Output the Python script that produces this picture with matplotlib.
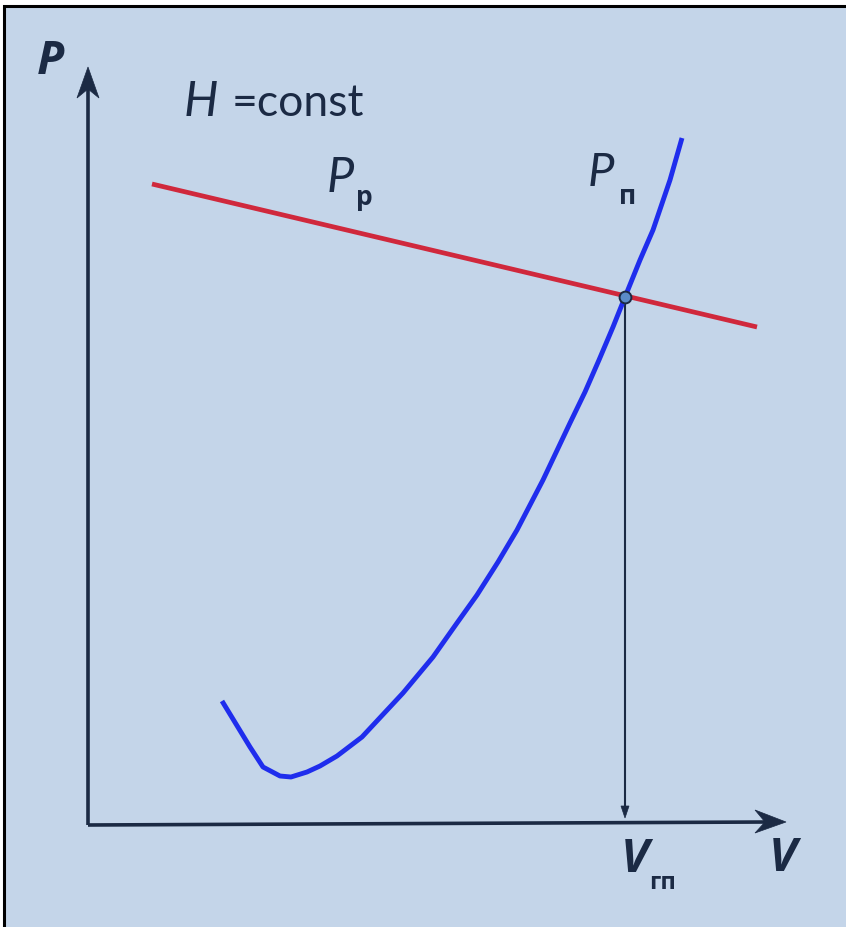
import matplotlib
matplotlib.use("Agg")
import matplotlib.pyplot as plt
from matplotlib.patches import Polygon, Rectangle

# ---- data (V, P in drawing units; origin at axes corner) ----
red_v = [64, 669]
red_p = [641, 498]
blue_v = [134, 162, 175, 192, 203, 219, 232, 249, 274, 315, 345, 369, 389, 410,
          429, 455, 482, 497, 511, 525, 537, 552, 565, 582, 594]
blue_p = [124, 78, 58, 49, 48, 53, 59, 69, 88, 132, 168, 202, 230, 263,
          295, 345, 402, 433, 465, 498, 528, 565, 595, 645, 687]
v_gp = 537
p_gp = 528

BG = "#c4d5e9"
NAVY = "#1b2a44"
RED = "#d0283c"
BLUE = "#1f2ded"

fig = plt.figure(figsize=(8.46, 9.27), dpi=100)
fig.patch.set_facecolor("white")
ax = fig.add_axes([0, 0, 1, 1])
ax.set_xlim(-88, 758)
ax.set_ylim(-102, 825)
ax.axis("off")
ax.patch.set_alpha(0)
ax.add_patch(Rectangle((4 / 846, -0.02), 1.05, 1.02 - 6 / 927, transform=fig.transFigure,
                       facecolor=BG, edgecolor="black", linewidth=2.2, zorder=0,
                       clip_on=False))

# axes
ax.plot([0, 0], [0, 740], color=NAVY, lw=2.6, solid_capstyle="butt", zorder=3)
ax.plot([0, 680], [0, 3], color=NAVY, lw=2.6, solid_capstyle="butt", zorder=3)
ax.add_patch(Polygon([(0, 758), (-11, 727), (0, 736), (11, 727)], closed=True,
                     facecolor=NAVY, edgecolor=NAVY, lw=0.5, zorder=3))
ax.add_patch(Polygon([(698, 3), (667, 15), (677, 3), (667, -8)], closed=True,
                     facecolor=NAVY, edgecolor=NAVY, lw=0.5, zorder=3))

# curves
ax.plot(red_v, red_p, color=RED, lw=3.4, solid_capstyle="butt", zorder=4)
ax.plot(blue_v, blue_p, color=BLUE, lw=3.5, solid_capstyle="butt",
        solid_joinstyle="round", zorder=5)

# drop line to V axis
ax.plot([v_gp, v_gp], [p_gp, 15], color=NAVY, lw=1.5, zorder=4)
ax.add_patch(Polygon([(v_gp, 7), (v_gp - 4, 19), (v_gp + 4, 19)], closed=True,
                     facecolor=NAVY, edgecolor=NAVY, lw=0.5, zorder=4))
ax.plot([v_gp], [p_gp], "o", ms=8.5, mfc="#5b8bc8", mec=NAVY, mew=1.4, zorder=6)

LATO = ["Lato", "DejaVu Sans"]
OPEN = ["Open Sans", "DejaVu Sans"]
def txt(x, y, s, size, weight="normal", style="normal", fam=LATO):
    ax.text(x, y, s, fontsize=size, fontweight=weight, fontstyle=style,
            color=NAVY, family=fam, ha="left", va="baseline", zorder=7)

txt(-51, 751, "P", 34, "bold", "italic", OPEN)
txt(96, 709, "H", 35, "normal", "italic")
txt(144, 709, "=const", 32)
txt(239, 633, "P", 35, "normal", "italic")
txt(268, 620, "р", 19, "bold", fam=OPEN)
txt(500, 639, "P", 34, "normal", "italic")
txt(531, 621, "п", 19, "bold", fam=OPEN)
txt(533, -47, "V", 34, "bold", "italic", OPEN)
txt(561, -64, "гп", 17, "bold", fam=OPEN)
txt(681, -46, "V", 34, "bold", "italic", OPEN)

fig.savefig("out.png", dpi=100, facecolor="white")
